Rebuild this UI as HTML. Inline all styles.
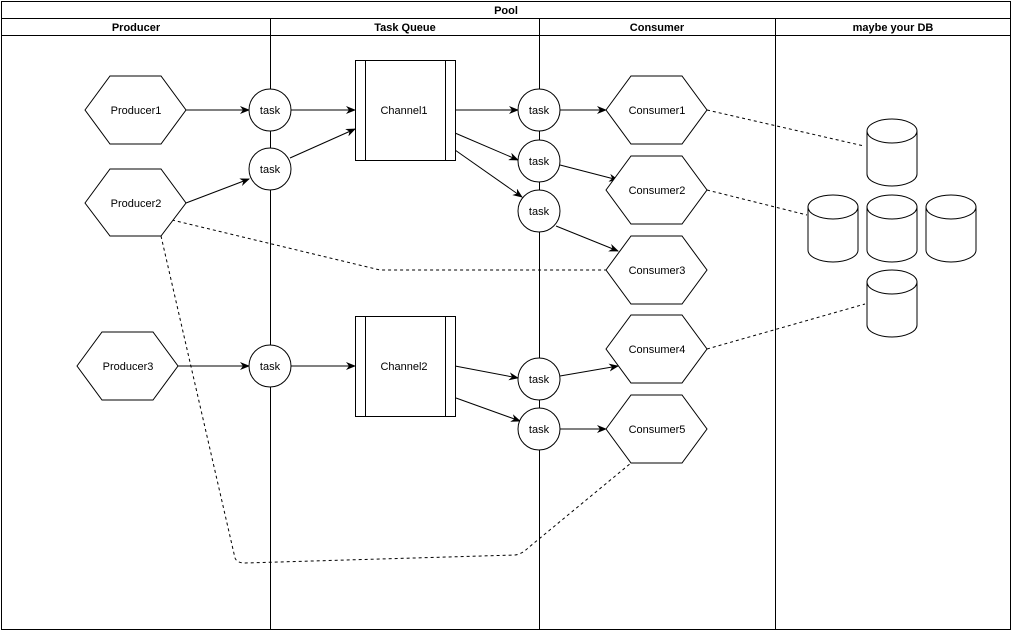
<!DOCTYPE html>
<html><head><meta charset="utf-8"><style>
html,body{margin:0;padding:0;background:#fff;}
svg{display:block;}
text{font-family:"Liberation Sans",sans-serif;font-size:11px;fill:#000;}
.h{font-weight:bold;}
</style></head><body>
<svg width="1013" height="633" viewBox="0 0 1013 633" xmlns="http://www.w3.org/2000/svg">
<defs>
<marker id="a" markerWidth="10" markerHeight="8" refX="9" refY="4" orient="auto" markerUnits="userSpaceOnUse">
<path d="M0,0 L10,4 L0,8 L3,4 Z" fill="#000"/></marker>
</defs>
<g fill="none" stroke="#000" stroke-width="1">
<rect x="1.5" y="1.5" width="1009" height="628"/>
<line x1="1" y1="18.5" x2="1011" y2="18.5"/>
<line x1="1" y1="35.5" x2="1011" y2="35.5"/>
<line x1="270.5" y1="18" x2="270.5" y2="630"/>
<line x1="539.5" y1="18" x2="539.5" y2="630"/>
<line x1="775.5" y1="18" x2="775.5" y2="630"/>
</g>
<g text-anchor="middle" class="h">
<text x="506" y="14" class="h">Pool</text>
<text x="136" y="31" class="h">Producer</text>
<text x="405" y="31" class="h">Task Queue</text>
<text x="657" y="31" class="h">Consumer</text>
<text x="893" y="31" class="h">maybe your DB</text>
</g>
<!-- dashed -->
<g fill="none" stroke="#000" stroke-dasharray="3,3" stroke-width="1">
<path d="M707,110 L864,146"/>
<path d="M707,190 L807,215"/>
<path d="M707,349 L865,304"/>
<path d="M172,220 L380,270 L606,270"/>
<path d="M161,236 L235,558 Q237,563 245,563 L515,555 Q522,554 528,548 L631,463"/>
</g>
<!-- arrows -->
<g fill="none" stroke="#000" stroke-width="1" marker-end="url(#a)">
<path d="M186,110 L249,110"/>
<path d="M291,110 L355,110"/>
<path d="M290,158 L355,129"/>
<path d="M186,203 L249,179"/>
<path d="M455,110 L518,110"/>
<path d="M560,110 L606,110"/>
<path d="M455,133 L518,160"/>
<path d="M455,150 L522,197"/>
<path d="M560,165 L618,180"/>
<path d="M556,226 L618,251"/>
<path d="M178,366 L249,366"/>
<path d="M291,366 L355,366"/>
<path d="M455,366 L518,378"/>
<path d="M456,398 L520,421"/>
<path d="M560,376 L618,366"/>
<path d="M560,429 L606,429"/>
</g>
<!-- hexagons -->
<g fill="#fff" stroke="#000" stroke-width="1">
<polygon points="85,110 110,76 161,76 186,110 161,144 110,144"/>
<polygon points="85,203 110,169 161,169 186,203 161,236 110,236"/>
<polygon points="77,366 102,332 153,332 178,366 153,400 102,400"/>
<polygon points="606,110 631,76 682,76 707,110 682,144 631,144"/>
<polygon points="606,190 631,156 682,156 707,190 682,224 631,224"/>
<polygon points="606,270 631,236 682,236 707,270 682,304 631,304"/>
<polygon points="606,349 631,315 682,315 707,349 682,383 631,383"/>
<polygon points="606,429 631,395 682,395 707,429 682,463 631,463"/>
<circle cx="270" cy="110" r="21"/>
<circle cx="270" cy="169" r="21"/>
<circle cx="270" cy="366" r="21"/>
<circle cx="539" cy="110" r="21"/>
<circle cx="539" cy="161" r="21"/>
<circle cx="539" cy="211" r="21"/>
<circle cx="539" cy="379" r="21"/>
<circle cx="539" cy="429" r="21"/>
<rect x="355.5" y="60.5" width="100" height="100"/>
<line x1="365.5" y1="60" x2="365.5" y2="160"/><line x1="445.5" y1="60" x2="445.5" y2="160"/>
<rect x="355.5" y="316.5" width="100" height="100"/>
<line x1="365.5" y1="316" x2="365.5" y2="416"/><line x1="445.5" y1="316" x2="445.5" y2="416"/>
</g>
<!-- cylinders -->
<g fill="#fff" stroke="#000" stroke-width="1">
<g transform="translate(867,119)"><path d="M0,12 A25,12 0 0 1 50,12 L50,55 A25,12 0 0 1 0,55 Z"/><path d="M0,12 A25,12 0 0 0 50,12" fill="none"/></g>
<g transform="translate(808,195)"><path d="M0,12 A25,12 0 0 1 50,12 L50,55 A25,12 0 0 1 0,55 Z"/><path d="M0,12 A25,12 0 0 0 50,12" fill="none"/></g>
<g transform="translate(867,195)"><path d="M0,12 A25,12 0 0 1 50,12 L50,55 A25,12 0 0 1 0,55 Z"/><path d="M0,12 A25,12 0 0 0 50,12" fill="none"/></g>
<g transform="translate(926,195)"><path d="M0,12 A25,12 0 0 1 50,12 L50,55 A25,12 0 0 1 0,55 Z"/><path d="M0,12 A25,12 0 0 0 50,12" fill="none"/></g>
<g transform="translate(867,270)"><path d="M0,12 A25,12 0 0 1 50,12 L50,55 A25,12 0 0 1 0,55 Z"/><path d="M0,12 A25,12 0 0 0 50,12" fill="none"/></g>
</g>
<g text-anchor="middle">
<text x="136" y="114">Producer1</text>
<text x="136" y="207">Producer2</text>
<text x="128" y="370">Producer3</text>
<text x="270" y="114">task</text>
<text x="270" y="173">task</text>
<text x="270" y="370">task</text>
<text x="539" y="114">task</text>
<text x="539" y="165">task</text>
<text x="539" y="215">task</text>
<text x="539" y="383">task</text>
<text x="539" y="433">task</text>
<text x="404" y="114">Channel1</text>
<text x="404" y="370">Channel2</text>
<text x="657" y="114">Consumer1</text>
<text x="657" y="194">Consumer2</text>
<text x="657" y="274">Consumer3</text>
<text x="657" y="353">Consumer4</text>
<text x="657" y="433">Consumer5</text>
</g>
</svg>
</body></html>
